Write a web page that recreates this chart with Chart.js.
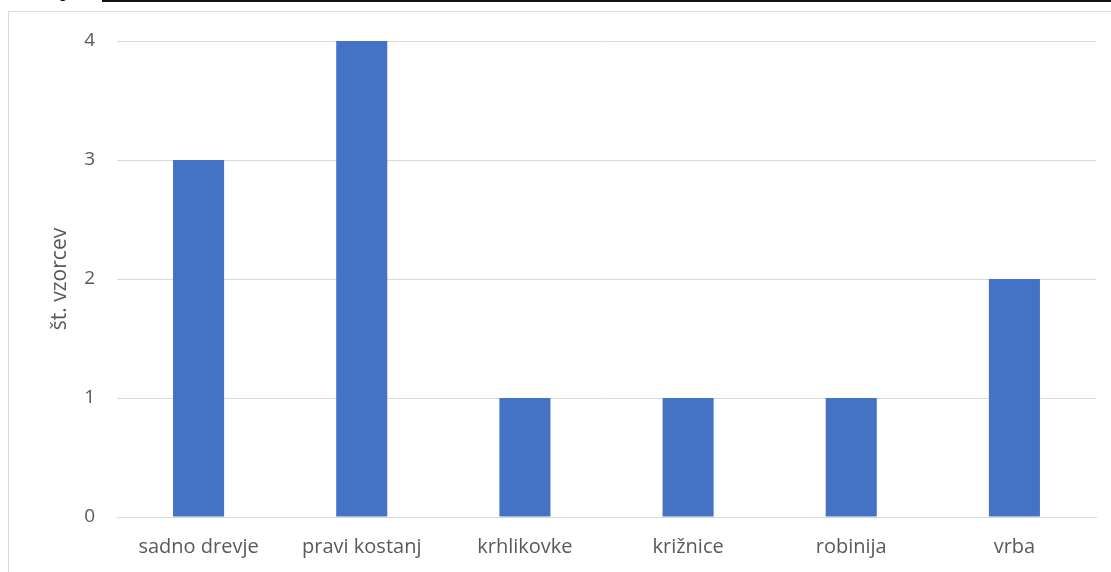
<!DOCTYPE html>
<html>
<head>
<meta charset="utf-8">
<script src="https://cdn.jsdelivr.net/npm/chart.js@4"></script>
<style>
  html, body { margin: 0; padding: 0; background: #fff; overflow: hidden; }
  body { width: 1111px; height: 572px; position: relative; }
  #frame { position: absolute; left: 8px; top: 11px; width: 1200px; height: 700px; border: 1px solid #d9d9d9; }
  #rule { position: absolute; left: 102px; top: 0; width: 1009px; height: 2px; background: #111; }
  #ptext { position: absolute; left: 60px; top: -22px; font-family: "Liberation Serif", serif; font-size: 22px; line-height: 22px; color: #000; }
  #wrap { position: absolute; left: 0; top: 0; width: 1111px; height: 572px; }
</style>
</head>
<body>
<div id="ptext">p</div>
<div id="rule"></div>
<div id="frame"></div>
<div id="wrap"><canvas id="chart"></canvas></div>
<script>
// drevesne vrste in število vzorcev
const categories = ['sadno drevje', 'pravi kostanj', 'krhlikovke', 'križnice', 'robinija', 'vrba'];
const samples = [3, 4, 1, 1, 1, 2];
const yTicks = [0, 1, 2, 3, 4];

const textColor = '#595959';
const fontFamily = '"Open Sans", "Noto Sans", sans-serif';

const ctx = document.getElementById('chart').getContext('2d');
const chart = new Chart(ctx, {
  type: 'bar',
  data: {
    labels: categories,
    datasets: [
      {
        label: 'št. vzorcev',
        data: samples,
        backgroundColor: '#4472C4',
        borderWidth: 0,
        categoryPercentage: 1,
        barPercentage: 0.313
      }
    ]
  },
  options: {
    responsive: true,
    maintainAspectRatio: false,
    animation: false,
    layout: { padding: { left: 0, right: 15, top: 41, bottom: 0 } },
    plugins: {
      legend: { display: false },
      tooltip: { enabled: false }
    },
    scales: {
      x: {
        grid: { display: false, drawTicks: false },
        border: { color: '#d9d9d9', width: 1 },
        ticks: {
          color: textColor,
          font: { family: fontFamily, size: 20 },
          padding: 18,
          maxRotation: 0
        },
        afterFit: scale => { scale.height = 55; }
      },
      y: {
        min: 0,
        max: 4,
        afterBuildTicks: scale => { scale.ticks = yTicks.map(v => ({ value: v })); },
        grid: { color: '#d9d9d9', lineWidth: 1, drawTicks: false },
        border: { display: false },
        ticks: {
          color: textColor,
          font: { family: fontFamily, size: 19 },
          padding: 22
        },
        title: {
          display: true,
          text: 'št. vzorcev',
          color: textColor,
          font: { family: fontFamily, size: 21 },
          padding: { top: 47, bottom: 0 }
        },
        afterFit: scale => { scale.width = 117; }
      }
    }
  }
});
</script>
</body>
</html>
